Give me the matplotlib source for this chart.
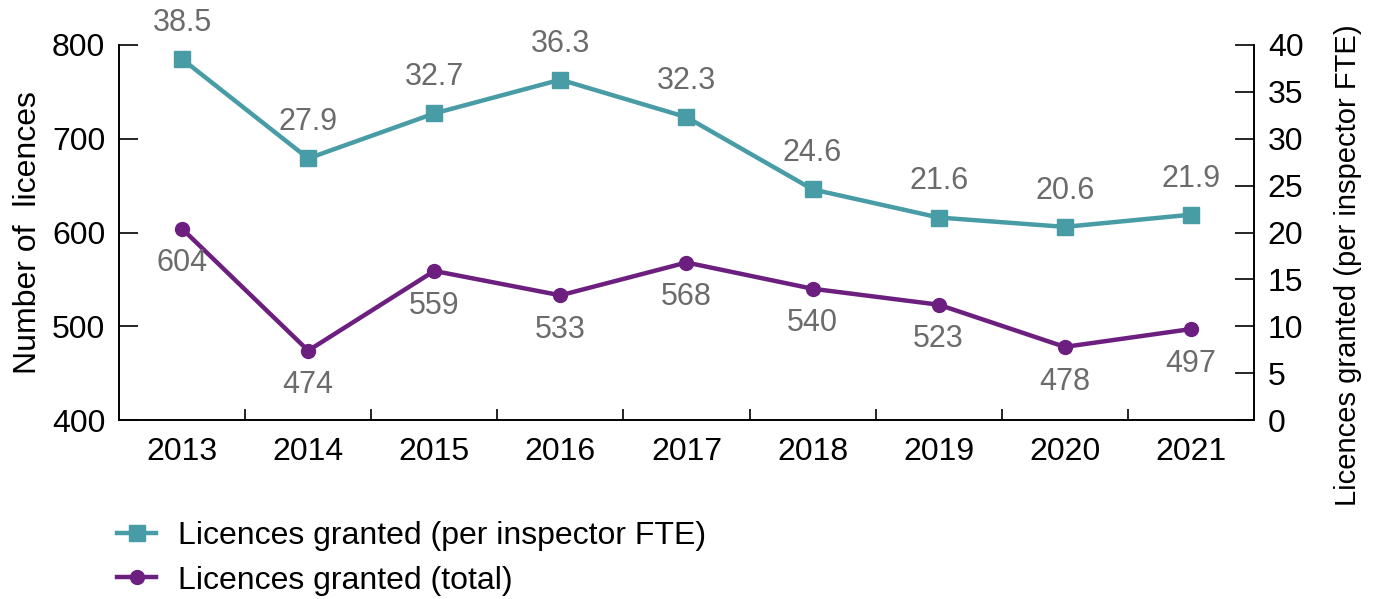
import matplotlib.pyplot as plt
from matplotlib.lines import Line2D

plt.rcParams['font.family'] = ['Liberation Sans', 'DejaVu Sans']

years = ['2013', '2014', '2015', '2016', '2017', '2018', '2019', '2020', '2021']
per_fte = [38.5, 27.9, 32.7, 36.3, 32.3, 24.6, 21.6, 20.6, 21.9]
total = [604, 474, 559, 533, 568, 540, 523, 478, 497]

teal = '#489ca6'
purple = '#6d1f80'
grey = '#6b6b6b'

fig = plt.figure(figsize=(13.81, 5.99), dpi=100)
ax = fig.add_axes([0.0862, 0.2988, 0.8218, 0.6261])
ax2 = ax.twinx()

x = list(range(len(years)))

ax.plot(x, total, color=purple, lw=3.2, marker='o', ms=10, zorder=3)
for xi, v in zip(x, total):
    ax.annotate(str(v), (xi, v), xytext=(0, -25), textcoords='offset points',
                ha='center', va='center', fontsize=22, color=grey)

ax2.plot(x, per_fte, color=teal, lw=3.2, marker='s', ms=11, zorder=3)
for xi, v in zip(x, per_fte):
    ax2.annotate('%.1f' % v, (xi, v), xytext=(0, 26), textcoords='offset points',
                 ha='center', va='center', fontsize=22, color=grey)

ax.set_xlim(-0.5, 8.5)
ax.set_ylim(400, 800)
ax2.set_ylim(0, 40)
ax.set_yticks(range(400, 801, 100))
ax2.set_yticks(range(0, 41, 5))

ax.set_xticks([i + 0.5 for i in range(len(years) - 1)])
ax.set_xticklabels([])
ax.set_xticks(x, minor=True)
ax.set_xticklabels(years, minor=True)
ax.tick_params(axis='x', which='major', direction='in', length=8, width=1.2)
ax.tick_params(axis='x', which='minor', length=0, pad=12, labelsize=23)
ax.tick_params(axis='y', direction='in', length=14, width=1.2, pad=10, labelsize=23)
ax2.tick_params(axis='y', direction='in', length=14, width=1.2, pad=10, labelsize=23)

for a in (ax, ax2):
    a.spines['top'].set_visible(False)
    for s in ('left', 'right', 'bottom'):
        a.spines[s].set_linewidth(1.2)

ax.set_ylabel('Number of  licences', fontsize=23, labelpad=6)
ax2.set_ylabel('Licences granted (per inspector FTE)', fontsize=21, rotation=90,
               va='center', ha='center')
ax2.yaxis.set_label_coords(1.083, 0.413)

handles = [
    Line2D([], [], color=teal, lw=3.2, marker='s', ms=11),
    Line2D([], [], color=purple, lw=3.2, marker='o', ms=10),
]
fig.legend(handles, ['Licences granted (per inspector FTE)', 'Licences granted (total)'],
           loc='upper left', bbox_to_anchor=(0.085, 0.13), frameon=False,
           fontsize=23, handlelength=1.2, handletextpad=0.7, labelspacing=0.45,
           borderpad=0, borderaxespad=0)

fig.savefig('out.png', dpi=100)
